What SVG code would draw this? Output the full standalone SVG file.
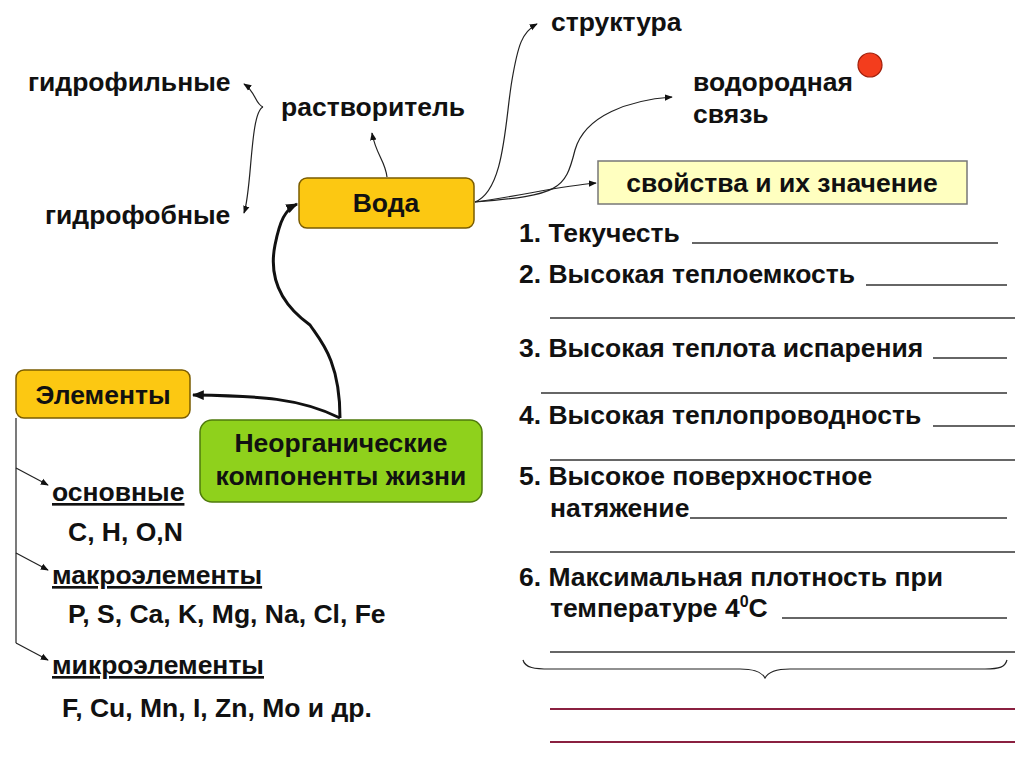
<svg xmlns="http://www.w3.org/2000/svg" width="1024" height="761" viewBox="0 0 1024 761">
<defs>
<style>
.t{font-family:"Liberation Sans",Arial,sans-serif;font-weight:bold;font-size:26.5px;fill:#111}
.c{text-anchor:middle}
.u{text-decoration:underline}
.thin{fill:none;stroke:#222;stroke-width:1.2}
.thick{fill:none;stroke:#111;stroke-width:3}
.ln{stroke:#333;stroke-width:1.5}
.rl{stroke:#8a2040;stroke-width:2}
.y{fill:#fcc812;stroke:#7a5c00;stroke-width:1.5}
</style>
<marker id="a" viewBox="0 0 10 10" refX="9" refY="5" markerWidth="8" markerHeight="8" markerUnits="userSpaceOnUse" orient="auto"><path d="M0,1 L10,5 L0,9 Z" fill="#111"/></marker>
<marker id="b" viewBox="0 0 10 10" refX="9" refY="5" markerWidth="12" markerHeight="12" markerUnits="userSpaceOnUse" orient="auto"><path d="M0,1 L10,5 L0,9 Z" fill="#111"/></marker>
</defs>
<rect width="1024" height="761" fill="#fff"/>
<g id="connectors">
<path class="thin" d="M263,107 C255,104 256,92 244,84" marker-end="url(#a)"/>
<path class="thin" d="M263,107 C250,112 252,190 244,213" marker-end="url(#a)"/>
<path class="thin" d="M387,177 C385,160 376,155 372,133" marker-end="url(#a)"/>
<path class="thin" d="M475,202 C505,190 505,120 512,80 C518,45 522,32 537,24" marker-end="url(#a)"/>
<path class="thin" d="M475,202 C560,195 565,190 575,150 C585,115 630,100 672,97" marker-end="url(#a)"/>
<path class="thin" d="M475,202 C520,196 560,186 596,183" marker-end="url(#a)"/>
<path class="thick" d="M340,418 C340,360 320,340 310,325 C275,300 270,270 275,245 C280,220 285,210 297,204" marker-end="url(#b)"/>
<path class="thick" d="M340,418 C300,398 260,396 193,395" marker-end="url(#b)"/>
<path class="thin" d="M16,418 L16,643"/>
<path class="thin" d="M16,468 L48,485" marker-end="url(#a)"/>
<path class="thin" d="M16,553 L48,570" marker-end="url(#a)"/>
<path class="thin" d="M16,643 L48,660" marker-end="url(#a)"/>
</g>
<g id="voda"><rect class="y" x="299" y="178" width="175" height="50" rx="8"/><text class="t c" x="386" y="212">Вода</text></g>
<g id="rastvoritel"><text class="t" x="281" y="116">растворитель</text></g>
<g id="gidrofilnye"><text class="t" x="28" y="91">гидрофильные</text></g>
<g id="gidrofobnye"><text class="t" x="45" y="224">гидрофобные</text></g>
<g id="struktura"><text class="t" x="551" y="31">структура</text></g>
<g id="vodorodnaya"><text class="t" x="693" y="91">водородная</text><text class="t" x="693" y="123">связь</text><circle cx="870" cy="65" r="12" fill="#f33d1d" stroke="#a0200c" stroke-width="1.2"/></g>
<g id="svoystva"><rect x="598" y="161" width="369" height="43" fill="#ffffc0" stroke="#777" stroke-width="1.5"/><text class="t c" x="782" y="192">свойства и их значение</text></g>
<g id="elementy"><rect class="y" x="16" y="370" width="174" height="48" rx="8"/><text class="t c" x="103" y="404">Элементы</text></g>
<g id="neorg"><rect x="200" y="420" width="282" height="82" rx="12" fill="#8fd11c" stroke="#4f7a0c" stroke-width="1.5"/><text class="t c" x="341" y="452">Неорганические</text><text class="t c" x="341" y="485">компоненты жизни</text></g>
<g id="osnovnye"><text class="t u" x="52" y="501">основные</text><text class="t" x="68" y="541">C, H, O,N</text></g>
<g id="makro"><text class="t u" x="52" y="584">макроэлементы</text><text class="t" x="68" y="623">P, S, Ca, K, Mg, Na, Cl, Fe</text></g>
<g id="mikro"><text class="t u" x="52" y="674">микроэлементы</text><text class="t" x="62" y="717">F, Cu, Mn, I, Zn, Mo и др.</text></g>
<g id="list">
<text class="t" x="519" y="242">1. Текучесть</text><line class="ln" x1="692" y1="243" x2="998" y2="243"/>
<text class="t" x="519" y="283">2. Высокая теплоемкость</text><line class="ln" x1="866" y1="285" x2="1007" y2="285"/>
<line class="ln" x1="550" y1="318" x2="1015" y2="318"/>
<text class="t" x="519" y="357">3. Высокая теплота испарения</text><line class="ln" x1="933" y1="358" x2="1007" y2="358"/>
<line class="ln" x1="541" y1="393" x2="1007" y2="393"/>
<text class="t" x="519" y="424">4. Высокая теплопроводность</text><line class="ln" x1="933" y1="426" x2="1015" y2="426"/>
<line class="ln" x1="550" y1="460" x2="1015" y2="460"/>
<text class="t" x="519" y="485">5. Высокое поверхностное</text>
<text class="t" x="550" y="517">натяжение</text><line class="ln" x1="690" y1="518" x2="1007" y2="518"/>
<line class="ln" x1="550" y1="552" x2="1015" y2="552"/>
<text class="t" x="519" y="586">6. Максимальная плотность при</text>
<text class="t" x="550" y="617">температуре 4<tspan font-size="16" dy="-10">0</tspan><tspan dy="10">С</tspan></text><line class="ln" x1="782" y1="618" x2="1007" y2="618"/>
<line class="ln" x1="550" y1="652" x2="1015" y2="652"/>
<path class="thin" d="M523,660 C525,668 535,669 550,669 L740,669 C755,669 762,672 765,678 C768,672 775,669 790,669 L985,669 C1000,669 1005,667 1007,660"/>
<line class="rl" x1="550" y1="709" x2="1015" y2="709"/>
<line class="rl" x1="550" y1="742" x2="1015" y2="742"/>
</g>
</svg>
